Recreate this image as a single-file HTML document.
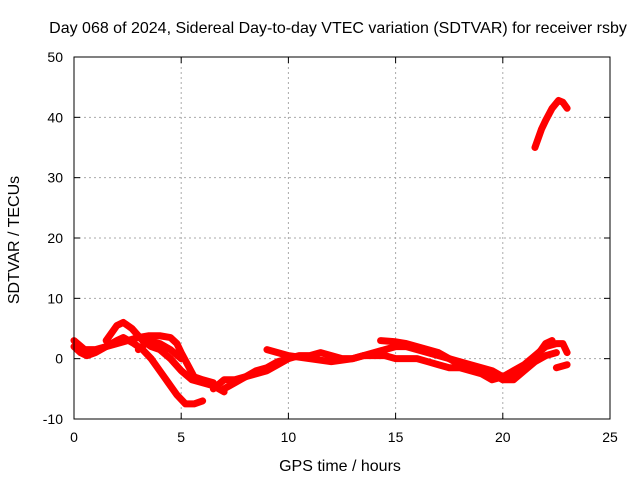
<!DOCTYPE html>
<html><head><meta charset="utf-8"><style>
body{margin:0;background:#fff}
svg text{font-family:"Liberation Sans",sans-serif;font-size:14px;fill:#000}
svg text.big{font-size:16px}
</style></head><body>
<svg width="640" height="480" id="c">
<rect width="640" height="480" fill="#fff"/>
<text class="big" x="338" y="33" text-anchor="middle">Day 068 of 2024, Sidereal Day-to-day VTEC variation (SDTVAR) for receiver rsby</text>
<text class="big" x="340" y="471" text-anchor="middle">GPS time / hours</text>
<text class="big" x="19" y="240" text-anchor="middle" transform="rotate(-90 19 240)">SDTVAR / TECUs</text>
<g id="grid"></g><g id="series"></g>
<rect x="74" y="57" width="536" height="362" fill="none" stroke="#000"/>
</svg>
<script>
const xTicks=[0,5,10,15,20,25];
const yTicks=[-10,0,10,20,30,40,50];
const trackA=[[0,2],[0.3,1],[0.6,0.5],[1,1],[1.5,2],[2,3],[2.3,3.5],[2.8,2.5],[3.2,1.5],[3.6,0],[4,-2],[4.4,-4],[4.8,-6],[5.2,-7.5],[5.6,-7.5],[6,-7]];
const trackB=[[1.5,3],[2,5.5],[2.3,6],[2.7,5],[3.2,3],[3.6,2],[4,1.5],[4.5,0],[5,-2],[5.5,-3.5],[6,-4],[6.5,-4.5],[7,-5.5]];
const trackC=[[0,3],[0.5,1.5],[1,1.5],[1.5,2],[2,2.5],[2.5,3],[3,3.5],[3.5,3.8],[4,3.8],[4.5,3.5],[4.8,2.5],[5,1],[5.3,-1],[5.6,-3],[6,-3.5],[6.5,-4]];
const trackD=[[3,1.5],[3.5,3],[4,2.5],[4.5,1.5],[5,0]];
const trackE=[[6.5,-5],[7,-3.5],[7.5,-3.5],[8,-3],[8.5,-2.5],[9,-2],[9.5,-1],[10,0],[10.5,0.5],[11,0.5],[11.5,1],[12,0.5],[12.5,0],[13,0],[13.5,0.5],[14,0.5],[14.5,0.5],[15,0],[15.5,0],[16,0],[16.5,-0.5],[17,-1],[17.5,-1.5],[18,-1.5],[18.5,-2],[19,-2.5],[19.5,-3.5],[20,-3],[20.5,-2],[21,-1],[21.5,0.5],[22,2],[22.5,2.5],[22.8,2.5],[23,1]];
const trackF=[[9,1.5],[9.5,1],[10,0.5],[11,0],[12,-0.5],[13,0],[14,1],[14.5,1.5],[15,2],[15.5,2],[16,1.5],[17,0.5],[18,-0.5],[19,-1.5],[19.5,-2],[20,-3],[20.5,-2.5],[21,-1.5],[21.5,0],[22,2.5],[22.3,3]];
const trackG=[[14.3,3],[15,2.8],[15.5,2.5],[16,2],[16.5,1.5],[17,1],[17.5,0],[18,-1],[18.5,-1.5],[19,-2],[19.5,-2.5],[20,-3.5],[20.5,-3.5],[21,-2],[21.5,-0.5],[22,0.5],[22.5,1]];
const trackH=[[22.5,-1.5],[23,-1]];
const trackI=[[21.5,35],[21.8,38],[22,39.5],[22.3,41.5],[22.6,42.8],[22.8,42.5],[23,41.5]];
const trackJ=[[7,-5],[7.5,-4],[8,-3],[8.5,-2],[9,-1.5],[9.5,-0.5],[10,0]];
const tracks=[trackA,trackB,trackC,trackD,trackE,trackF,trackG,trackH,trackI,trackJ];
const NS="http://www.w3.org/2000/svg";
const X=v=>74+(v-0)/25*536, Y=v=>419-(v+10)/60*362;
const svg=document.getElementById('c'),g=document.getElementById('grid'),s=document.getElementById('series');
function mk(t,a,p){const e=document.createElementNS(NS,t);for(const k in a)e.setAttribute(k,a[k]);p.appendChild(e);return e;}
xTicks.forEach(v=>{const x=X(v);
 if(v>0&&v<25){const l=mk('line',{x1:x,x2:x,y1:57,y2:419,stroke:'#aaa','stroke-dasharray':'2,3'},g);}
 const t=mk('text',{x:x,y:442,'text-anchor':'middle'},svg);t.textContent=v;
 
 mk('line',{x1:x,x2:x,y1:419,y2:413,stroke:'#000'},svg);mk('line',{x1:x,x2:x,y1:57,y2:63,stroke:'#000'},svg);});
yTicks.forEach(v=>{const y=Y(v);
 if(v>-10&&v<50){const l=mk('line',{x1:74,x2:610,y1:y,y2:y,stroke:'#aaa','stroke-dasharray':'2,3'},g);}
 const t=mk('text',{x:63,y:y+5,'text-anchor':'end'},svg);t.textContent=v;
 
 mk('line',{x1:74,x2:80,y1:y,y2:y,stroke:'#000'},svg);mk('line',{x1:610,x2:604,y1:y,y2:y,stroke:'#000'},svg);});
tracks.forEach(tr=>{
 const p=mk('polyline',{points:tr.map(d=>X(d[0])+','+Y(d[1])).join(' '),fill:'none',stroke:'#f00','stroke-width':7,'stroke-linejoin':'round','stroke-linecap':'round'},s);
 
 
});
</script>
</body></html>
